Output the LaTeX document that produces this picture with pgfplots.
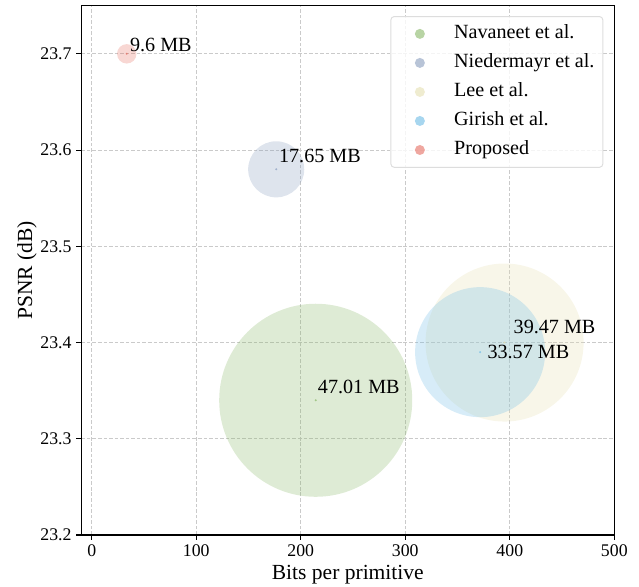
\documentclass[border=0pt]{standalone}
\usepackage{fontspec}
\setmainfont{Liberation Serif}
\usepackage{pgfplots}
\pgfplotsset{compat=1.18}
\definecolor{cNav}{HTML}{89B767}
\definecolor{cNie}{HTML}{899DBE}
\definecolor{cLee}{HTML}{E6DFB1}
\definecolor{cGir}{HTML}{6EBBE6}
\definecolor{cPro}{HTML}{E66E61}
\definecolor{gridc}{HTML}{CACACA}
\definecolor{legc}{HTML}{DDDDDD}
\pgfplotsset{
  bubble/.style 2 args={only marks, mark=*, color=#1, mark size=#2, mark options={draw opacity=0, fill=#1, fill opacity=0.28}, forget plot},
  cdot/.style={only marks, mark=*, color=#1, mark size=0.8pt, mark options={draw opacity=0, fill=#1, fill opacity=0.7}, forget plot},
  legcirc/.style={legend image code/.code={\path[draw=none, fill=none] (0,-3pt) rectangle (39.6pt,3pt); \fill[#1, fill opacity=0.6, draw=none] (16.9pt,0) circle (3.6pt);}},
}
\begin{document}
\begin{tikzpicture}
\begin{axis}[
  set layers,
  scale only axis, width=383.8pt, height=381.1pt,
  xmin=-10, xmax=500, ymin=23.2, ymax=23.75,
  xtick={0,100,200,300,400,500},
  ytick={23.2,23.3,23.4,23.5,23.6,23.7},
  yticklabel style={/pgf/number format/.cd, fixed, fixed zerofill, precision=1},
  /pgf/number format/assume math mode=true,
  tick align=outside, tick pos=left, major tick length=3.5pt,
  tick style={black, line width=0.8pt},
  axis line style={line width=0.8pt},
  ticklabel style={font=\fontsize{12.8}{15}\selectfont},
  grid=major, grid style={gridc, dash pattern=on 2.6pt off 1.4pt, line width=0.6pt},
  xlabel={Bits per primitive}, ylabel={PSNR (dB)},
  label style={font=\fontsize{15.5}{18}\selectfont},
  xlabel style={at={(rel axis cs:0.5,-0.0756)}, anchor=center},
  ylabel style={at={(rel axis cs:-0.102,0.5)}, anchor=center},
  legend style={at={(rel axis cs:0.9794,0.9805)}, anchor=north east, draw=legc, line width=0.7pt,
    rounded corners=2.5pt, fill=white, fill opacity=0.8, text opacity=1,
    font=\fontsize{14.5}{17}\selectfont, row sep=7.9pt, inner xsep=4pt, inner ysep=6pt,
    nodes={inner ysep=0pt, text height=10pt, text depth=3pt}},
  legend cell align=left,
  clip=false,
]
\addplot[bubble={cNav}{69.5pt}] coordinates {(214.3,23.34)};
\addplot[bubble={cNie}{20.2pt}] coordinates {(176.5,23.58)};
\addplot[bubble={cLee}{56.9pt}] coordinates {(395,23.40)};
\addplot[bubble={cGir}{46.8pt}] coordinates {(371.6,23.39)};
\addplot[bubble={cPro}{7.0pt}] coordinates {(33.5,23.70)};
\addplot[cdot=cNav] coordinates {(214.3,23.34)};
\addplot[cdot=cNie] coordinates {(176.5,23.58)};
\addplot[cdot=cLee] coordinates {(395,23.40)};
\addplot[cdot=cGir] coordinates {(371.6,23.39)};
\addplot[cdot=cPro] coordinates {(33.5,23.70)};
\addlegendimage{legcirc=cNav}\addlegendentry{Navaneet et al.}
\addlegendimage{legcirc=cNie}\addlegendentry{Niedermayr et al.}
\addlegendimage{legcirc=cLee}\addlegendentry{Lee et al.}
\addlegendimage{legcirc=cGir}\addlegendentry{Girish et al.}
\addlegendimage{legcirc=cPro}\addlegendentry{Proposed}
\begin{pgfonlayer}{axis foreground}
\begin{scope}[every node/.style={anchor=base west, inner sep=0pt, font=\fontsize{14.5}{17}\selectfont}]
\node at (axis cs:216.2,23.3466) {47.01 MB};
\node at (axis cs:403.5,23.409) {39.47 MB};
\node at (axis cs:378.4,23.383) {33.57 MB};
\node at (axis cs:179,23.5867) {17.65 MB};
\node at (axis cs:36.4,23.702) {9.6 MB};
\end{scope}
\end{pgfonlayer}
\coordinate (bbBL) at (rel axis cs:-0.1525,-0.0982);
\coordinate (bbTR) at (rel axis cs:1.0463,1.0108);
\end{axis}
\pgfresetboundingbox
\path[use as bounding box] (bbBL) rectangle (bbTR);
\end{tikzpicture}
\end{document}
